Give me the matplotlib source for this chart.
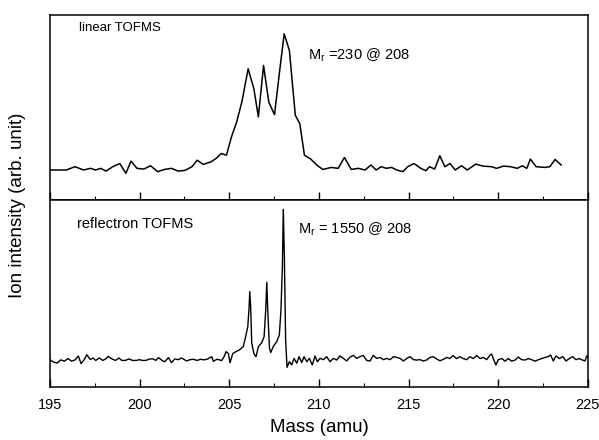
import matplotlib
matplotlib.use("Agg")
import matplotlib.pyplot as plt
from matplotlib.ticker import MultipleLocator

plt.rcParams['font.family'] = ['Liberation Sans', 'DejaVu Sans']

# linear TOFMS spectrum (mass in amu, intensity in arb. units)
linear_mass = [195.00, 195.53, 195.91, 196.39, 196.87, 197.26, 197.54, 197.83, 198.12, 198.50,
               198.89, 199.23, 199.52, 199.85, 200.23, 200.61, 201.00, 201.38, 201.77, 202.15,
               202.53, 202.92, 203.21, 203.55, 203.97, 204.26, 204.55, 204.84, 205.12, 205.41,
               205.70, 206.05, 206.37, 206.62, 206.91, 207.20, 207.52, 207.81, 208.06, 208.35,
               208.68, 208.93, 209.19, 209.54, 209.88, 210.21, 210.69, 211.07, 211.42, 211.80,
               212.19, 212.57, 212.90, 213.19, 213.47, 213.76, 214.05, 214.34, 214.68, 214.95,
               215.30, 215.68, 215.97, 216.16, 216.45, 216.74, 217.02, 217.31, 217.60, 217.95,
               218.27, 218.75, 219.14, 219.62, 219.90, 220.29, 220.67, 221.06, 221.34, 221.59,
               221.79, 222.11, 222.59, 222.88, 223.17, 223.51]
linear_int = [0.162, 0.162, 0.162, 0.180, 0.162, 0.171, 0.162, 0.171, 0.156, 0.180,
              0.197, 0.144, 0.210, 0.171, 0.167, 0.185, 0.153, 0.165, 0.171, 0.156,
              0.160, 0.180, 0.215, 0.192, 0.206, 0.224, 0.251, 0.242, 0.341, 0.422,
              0.530, 0.709, 0.601, 0.449, 0.727, 0.530, 0.461, 0.700, 0.898, 0.808,
              0.458, 0.413, 0.242, 0.221, 0.189, 0.165, 0.176, 0.171, 0.230, 0.165,
              0.171, 0.162, 0.189, 0.162, 0.180, 0.171, 0.176, 0.162, 0.153, 0.180,
              0.197, 0.171, 0.158, 0.180, 0.167, 0.239, 0.180, 0.197, 0.162, 0.185,
              0.162, 0.194, 0.183, 0.180, 0.171, 0.183, 0.180, 0.171, 0.185, 0.171,
              0.221, 0.180, 0.176, 0.180, 0.219, 0.189]

# reflectron TOFMS spectrum
refl_mass = [195.00, 195.20, 195.40, 195.60, 195.80, 196.00, 196.20, 196.40, 196.58, 196.73,
             196.90, 197.05, 197.25, 197.40, 197.55, 197.75, 197.95, 198.10, 198.25, 198.45,
             198.65, 198.85, 199.00, 199.20, 199.40, 199.60, 199.80, 200.00, 200.15, 200.35,
             200.55, 200.75, 200.90, 201.05, 201.25, 201.40, 201.60, 201.78, 201.95, 202.15,
             202.34, 202.50, 202.62, 202.80, 203.00, 203.20, 203.40, 203.60, 203.80, 204.02,
             204.11, 204.30, 204.45, 204.57, 204.70, 204.82, 204.95, 205.04, 205.19, 205.37,
             205.56, 205.78, 205.91, 206.03, 206.10, 206.14, 206.19, 206.25, 206.38, 206.49,
             206.62, 206.81, 206.94, 207.03, 207.09, 207.14, 207.24, 207.31, 207.45, 207.64,
             207.79, 207.88, 207.96, 208.01, 208.07, 208.14, 208.22, 208.35, 208.48, 208.61,
             208.76, 208.89, 209.04, 209.17, 209.32, 209.46, 209.63, 209.78, 209.91, 210.06,
             210.25, 210.43, 210.62, 210.80, 210.99, 211.17, 211.36, 211.55, 211.73, 211.92,
             212.10, 212.29, 212.47, 212.66, 212.85, 213.03, 213.22, 213.41, 213.60, 213.78,
             213.97, 214.15, 214.34, 214.52, 214.71, 214.90, 215.08, 215.27, 215.45, 215.64,
             215.82, 216.00, 216.19, 216.38, 216.56, 216.75, 216.94, 217.12, 217.30, 217.48,
             217.67, 217.86, 218.05, 218.24, 218.42, 218.60, 218.80, 218.98, 219.17, 219.35,
             219.54, 219.63, 219.72, 219.87, 220.00, 220.20, 220.38, 220.56, 220.75, 220.94,
             221.12, 221.30, 221.50, 221.68, 221.86, 222.05, 222.24, 222.42, 222.61, 222.78,
             222.92, 223.07, 223.22, 223.40, 223.60, 223.78, 223.96, 224.15, 224.33, 224.52,
             224.70, 224.84, 224.93, 225.00]
refl_int = [0.145, 0.133, 0.128, 0.145, 0.138, 0.152, 0.138, 0.145, 0.166, 0.125,
            0.145, 0.172, 0.147, 0.155, 0.142, 0.155, 0.142, 0.150, 0.164, 0.150,
            0.142, 0.155, 0.142, 0.142, 0.150, 0.142, 0.142, 0.146, 0.142, 0.142,
            0.150, 0.150, 0.142, 0.157, 0.142, 0.135, 0.157, 0.130, 0.150, 0.146,
            0.155, 0.146, 0.139, 0.146, 0.148, 0.142, 0.148, 0.145, 0.150, 0.162,
            0.137, 0.148, 0.145, 0.141, 0.160, 0.189, 0.178, 0.130, 0.178, 0.189,
            0.198, 0.216, 0.269, 0.322, 0.420, 0.510, 0.430, 0.234, 0.176, 0.162,
            0.216, 0.237, 0.269, 0.412, 0.560, 0.420, 0.207, 0.184, 0.216, 0.242,
            0.278, 0.412, 0.643, 0.950, 0.700, 0.251, 0.105, 0.135, 0.118, 0.153,
            0.127, 0.162, 0.131, 0.162, 0.135, 0.153, 0.118, 0.166, 0.135, 0.153,
            0.146, 0.162, 0.135, 0.153, 0.144, 0.166, 0.153, 0.139, 0.160, 0.169,
            0.153, 0.162, 0.169, 0.142, 0.139, 0.169, 0.153, 0.158, 0.146, 0.153,
            0.146, 0.162, 0.158, 0.153, 0.139, 0.153, 0.162, 0.146, 0.144, 0.146,
            0.139, 0.144, 0.158, 0.162, 0.150, 0.140, 0.148, 0.158, 0.152, 0.168,
            0.152, 0.162, 0.152, 0.146, 0.162, 0.152, 0.168, 0.152, 0.158, 0.146,
            0.171, 0.176, 0.152, 0.118, 0.146, 0.152, 0.138, 0.152, 0.138, 0.144,
            0.160, 0.146, 0.144, 0.152, 0.146, 0.138, 0.146, 0.152, 0.158, 0.162,
            0.171, 0.139, 0.166, 0.152, 0.162, 0.139, 0.152, 0.162, 0.146, 0.152,
            0.144, 0.139, 0.166, 0.160]

fig = plt.figure(figsize=(5.99, 4.40), dpi=100)
ax_top = fig.add_axes([0.0835, 0.5455, 0.898, 0.4205])
ax_bot = fig.add_axes([0.0835, 0.1205, 0.898, 0.425], sharex=ax_top)

for ax in (ax_top, ax_bot):
    ax.set_xlim(195, 225)
    ax.set_ylim(0, 1)
    ax.xaxis.set_major_locator(MultipleLocator(5))
    ax.xaxis.set_minor_locator(MultipleLocator(2.5))
    ax.tick_params(axis='x', which='major', direction='in', length=6, width=1.0,
                   top=False, labelsize=10.5, pad=8)
    ax.tick_params(axis='x', which='minor', direction='in', length=3, width=0.8, top=False)
    ax.set_yticks([])
    for s in ax.spines.values():
        s.set_linewidth(1.1)

ax_top.tick_params(axis='x', labelbottom=False)

ax_top.plot(linear_mass, linear_int, color='black', lw=1.1)
ax_bot.plot(refl_mass, refl_int, color='black', lw=1.0)

ax_top.text(0.054, 0.93, "linear TOFMS", transform=ax_top.transAxes,
            fontsize=9.5, va='center', ha='left')
ax_top.text(0.48, 0.784, r"M$_\mathregular{r}$ =230 @ 208", transform=ax_top.transAxes,
            fontsize=10.5, va='center', ha='left')
ax_bot.text(0.050, 0.872, "reflectron TOFMS", transform=ax_bot.transAxes,
            fontsize=10.5, va='center', ha='left')
ax_bot.text(0.461, 0.845, r"M$_\mathregular{r}$ = 1550 @ 208", transform=ax_bot.transAxes,
            fontsize=10.5, va='center', ha='left')

ax_bot.set_xlabel("Mass (amu)", fontsize=13.5, labelpad=5)
fig.text(0.030, 0.534, "Ion intensity (arb. unit)", rotation=90,
         fontsize=13.5, va='center', ha='center')

fig.savefig("out.png", dpi=100)
